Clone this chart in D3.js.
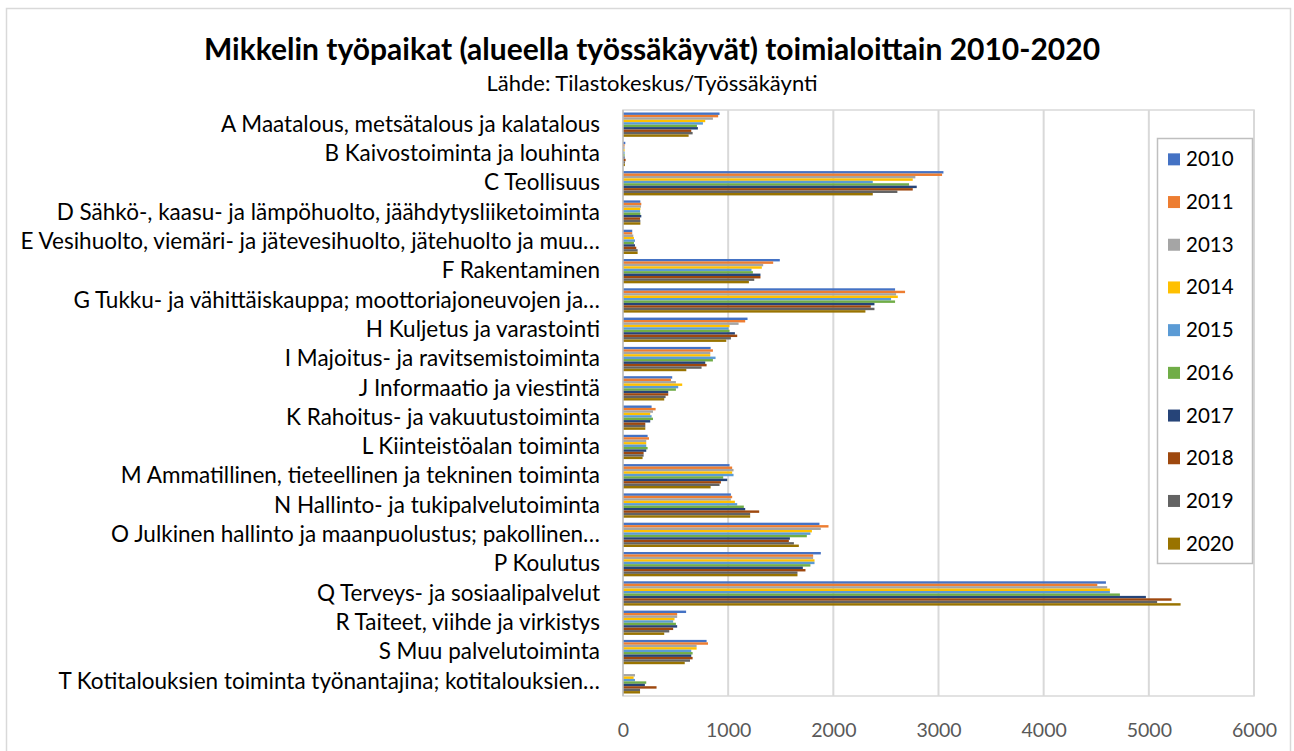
<!DOCTYPE html>
<html>
<head>
<meta charset="utf-8">
<script src="https://cdn.jsdelivr.net/npm/d3@7"></script>
<style>
  body { margin: 0; background: #fff; }
  text { font-family: Lato, "Open Sans", sans-serif; }
</style>
</head>
<body>
<script>
 // categories (toimialat)
 const categories = [
    'A Maatalous, metsätalous ja kalatalous',
    'B Kaivostoiminta ja louhinta',
    'C Teollisuus',
    'D Sähkö-, kaasu- ja lämpöhuolto, jäähdytysliiketoiminta',
    'E Vesihuolto, viemäri- ja jätevesihuolto, jätehuolto ja muu…',
    'F Rakentaminen',
    'G Tukku- ja vähittäiskauppa; moottoriajoneuvojen ja…',
    'H Kuljetus ja varastointi',
    'I Majoitus- ja ravitsemistoiminta',
    'J Informaatio ja viestintä',
    'K Rahoitus- ja vakuutustoiminta',
    'L Kiinteistöalan toiminta',
    'M Ammatillinen, tieteellinen ja tekninen toiminta',
    'N Hallinto- ja tukipalvelutoiminta',
    'O Julkinen hallinto ja maanpuolustus; pakollinen…',
    'P Koulutus',
    'Q Terveys- ja sosiaalipalvelut',
    'R Taiteet, viihde ja virkistys',
    'S Muu palvelutoiminta',
    'T Kotitalouksien toiminta työnantajina; kotitalouksien…'
 ];

 const years = ['2010', '2011', '2013', '2014', '2015', '2016', '2017', '2018', '2019', '2020'];

 // values per year, same order as categories
 const y2010 = [918, 22, 3047, 165, 88, 1491, 2587, 1184, 833, 468, 272, 234, 1013, 1026, 1868, 1881, 4592, 600, 795, 0];
 const y2011 = [905, 15, 3034, 174, 88, 1428, 2682, 1162, 855, 456, 310, 247, 1038, 1038, 1954, 1808, 4510, 515, 808, 0];
 const y2013 = [855, 15, 2780, 171, 98, 1333, 2597, 1099, 830, 503, 285, 221, 1051, 1026, 1881, 1808, 4604, 515, 700, 114];
 const y2014 = [782, 15, 2755, 165, 104, 1320, 2613, 1013, 830, 563, 259, 221, 1038, 1064, 1796, 1821, 4630, 490, 700, 101];
 const y2015 = [760, 15, 2375, 162, 114, 1222, 2549, 1004, 880, 525, 272, 221, 1051, 1086, 1782, 1821, 4630, 477, 649, 114];
 const y2016 = [703, 15, 2720, 165, 104, 1235, 2587, 1013, 855, 503, 285, 234, 953, 1149, 1748, 1782, 4725, 503, 662, 221];
 const y2017 = [712, 15, 2793, 174, 114, 1307, 2391, 1064, 782, 430, 259, 221, 991, 1162, 1587, 1710, 4972, 515, 649, 208];
 const y2018 = [649, 25, 2755, 162, 126, 1307, 2356, 1086, 795, 430, 212, 196, 931, 1295, 1577, 1735, 5216, 477, 662, 319];
 const y2019 = [662, 18, 2609, 165, 139, 1248, 2391, 1026, 747, 405, 212, 196, 918, 1209, 1625, 1659, 5079, 440, 637, 162];
 const y2020 = [624, 18, 2375, 165, 139, 1197, 2305, 982, 602, 392, 212, 186, 833, 1209, 1672, 1659, 5302, 392, 587, 162];
 const series = [y2010, y2011, y2013, y2014, y2015, y2016, y2017, y2018, y2019, y2020];

 const colors = ['#4472C4', '#ED7D31', '#A5A5A5', '#FFC000', '#5B9BD5', '#70AD47', '#264478', '#9E480E', '#636363', '#997300'];
 const xTicks = [0, 1000, 2000, 3000, 4000, 5000, 6000];

 // constants
 const width = 1294;
 const height = 751;
 const plot = { left: 623, right: 1254, top: 110, bottom: 696 };

 const svg = d3.select('body').append('svg')
       .attr('width', width).attr('height', height);

 // outer chart frame
 svg.append('rect').attr('x', 6.5).attr('y', 8.5).attr('width', 1284).attr('height', 760)
    .attr('fill', '#fff').attr('stroke', '#d9d9d9').attr('stroke-width', 1.5);

 // titles
 svg.append('text').attr('x', 652).attr('y', 60).attr('text-anchor', 'middle')
    .style('font-size', '30px').style('font-weight', 'bold').attr('fill', '#000')
    .text('Mikkelin työpaikat (alueella työssäkäyvät) toimialoittain 2010-2020');
 svg.append('text').attr('x', 652).attr('y', 91).attr('text-anchor', 'middle')
    .style('font-size', '22px').attr('fill', '#000')
    .text('Lähde: Tilastokeskus/Työssäkäynti');

 // scales
 const xScale = d3.scaleLinear().domain([0, 6000]).range([plot.left, plot.right]);
 const yScale = d3.scaleBand().domain(categories).range([plot.top, plot.bottom])
       .paddingInner(0.17).paddingOuter(0.085);
 const yInner = d3.scaleBand().domain(years).range([0, yScale.bandwidth()]);

 // gridlines
 svg.append('g').selectAll('line').data(xTicks.slice(1)).enter().append('line')
    .attr('x1', (d)=>xScale(d)).attr('x2', (d)=>xScale(d))
    .attr('y1', plot.top).attr('y2', plot.bottom)
    .attr('stroke', '#d9d9d9').attr('stroke-width', 2);

 // plot frame
 svg.append('rect').attr('x', plot.left).attr('y', plot.top)
    .attr('width', plot.right - plot.left).attr('height', plot.bottom - plot.top)
    .attr('fill', 'none').attr('stroke', '#d9d9d9').attr('stroke-width', 1.5);

 // bars
 const rows = categories.map((c, i) => ({ cat: c, vals: years.map((y, j) => ({ year: y, v: series[j][i], k: j })) }));
 svg.append('g').selectAll('g').data(rows).enter().append('g')
    .attr('transform', (d)=>`translate(0, ${yScale(d.cat)})`)
    .selectAll('rect').data((d)=>d.vals.filter((e)=>e.v > 0)).enter().append('rect')
    .attr('x', xScale(0)).attr('y', (d)=>yInner(d.year))
    .attr('width', (d)=>xScale(d.v) - xScale(0)).attr('height', yInner.bandwidth())
    .attr('fill', (d)=>colors[d.k]);

 // left axis line
 svg.append('line').attr('x1', plot.left).attr('x2', plot.left)
    .attr('y1', plot.top).attr('y2', plot.bottom)
    .attr('stroke', '#bfbfbf').attr('stroke-width', 1.5);

 // category labels
 const yAxis = svg.append('g').attr('transform', `translate(${plot.left}, 0)`)
       .call(d3.axisLeft(yScale).tickSize(0).tickPadding(23));
 yAxis.select('.domain').remove();
 yAxis.selectAll('text').style('font-size', '22.5px').style('font-family', 'Lato, sans-serif')
      .attr('fill', '#000');

 // x axis labels
 const xAxis = svg.append('g').attr('transform', `translate(0, ${plot.bottom})`)
       .call(d3.axisBottom(xScale).tickValues(xTicks).tickSize(0).tickPadding(27).tickFormat(d3.format('d')));
 xAxis.select('.domain').remove();
 xAxis.selectAll('text').style('font-size', '19.5px').style('font-family', 'Lato, sans-serif')
      .attr('fill', '#595959');

 // legend
 const legend = svg.append('g');
 legend.append('rect').attr('x', 1157.5).attr('y', 138.5).attr('width', 95).attr('height', 425)
       .attr('fill', '#fff').attr('stroke', '#bfbfbf').attr('stroke-width', 1.5);
 const legendScale = d3.scaleBand().domain(years).range([138, 565]);
 const item = legend.selectAll('g.item').data(years).enter().append('g').attr('class', 'item')
       .attr('transform', (d)=>`translate(1168, ${legendScale(d) + legendScale.bandwidth() / 2})`);
 item.append('rect').attr('x', 0).attr('y', -6).attr('width', 12).attr('height', 12)
     .attr('fill', (d, i)=>colors[i]);
 item.append('text').attr('x', 18).attr('y', 7).style('font-size', '20.5px').attr('fill', '#000')
     .text((d)=>d);
</script>
</body>
</html>
